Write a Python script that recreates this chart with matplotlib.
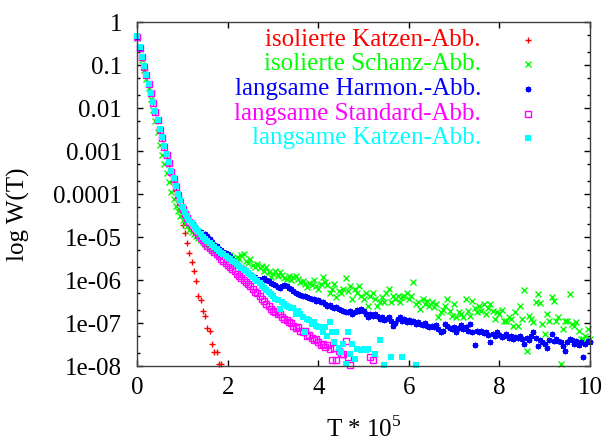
import numpy as np
import matplotlib
matplotlib.use("Agg")
import matplotlib.pyplot as plt
from matplotlib.ticker import LogLocator, NullLocator, NullFormatter

plt.rcParams["font.family"] = ["Liberation Serif", "DejaVu Serif"]
plt.rcParams["mathtext.fontset"] = "custom"
plt.rcParams["mathtext.rm"] = "Liberation Serif"

# sampling step of T * 1e5; values are exponents v with W(T) = 10**(-v)
# None = point not visible (zero / below 1e-8)
STEP = 0.05

red_exp = [
    0.33, 0.59, 0.81, 1.03, 1.23, 1.44, 1.65, 1.87, 2.08, 2.27, 2.49, 2.68, 2.88, 3.08, 3.3, 3.52, 3.72, 3.92, 4.1, 4.35,
    4.72, 4.91, 5.14, 5.37, 5.57, 5.79, 6.03, 6.36, 6.47, 6.71, 6.84, 7.12, 7.19, 7.49, 7.67, 7.67, 7.96, 7.96,
]

green_exp = [
    0.36, 0.63, 0.88, 1.12, 1.33, 1.54, 1.8, 2.05, 2.3, 2.55, 2.85, 3.1, 3.3, 3.5, 3.72, 3.95, 4.12, 4.28, 4.4, 4.5,
    4.6, 4.68, 4.75, 4.83, 4.88, 4.93, 4.98, 5.03, 5.08, 5.12, 5.16, 5.2, 5.24, 5.28, 5.32, 5.36, 5.38, 5.4, 5.38, 5.42,
    5.45, 5.42, 5.48, 5.5, 5.46, 5.52, 5.42, 5.4, 5.55, 5.6, 5.52, 5.66, 5.7, 5.62, 5.72, 5.67, 5.78, 5.7, 5.82, 5.94,
    5.85, 5.8, 5.9, 5.82, 5.88, 5.95, 5.98, 5.9, 6.0, 5.92, 5.9, 5.98, 6.05, 6.02, 6.1, 6.17, 6.08, 6.12, 6.0, 6.15,
    6.21, 6.1, 5.94, 6.05, 6.12, 6.29, 6.2, 6.09, 6.4, 6.25, 6.3, 6.2, 5.96, 6.25, 6.15, 6.44, 6.21, 6.3, 6.15, 6.36,
    6.44, 6.3, 6.6, 6.36, 6.29, 6.44, 6.6, 6.52, 6.4, 6.52, 6.3, 6.21, 6.52, 6.36, 6.45, 6.36, 6.52, 6.4, 6.36, 6.3,
    6.45, 6.36, 6.04, 6.56, 6.5, 6.67, 6.44, 6.55, 6.48, 6.6, 6.52, 6.62, 6.56, 6.87, 6.75, 6.7, 6.6, 6.44, 6.71, 6.83,
    6.56, 6.87, 6.75, 6.8, 6.87, 6.44, 6.71, 6.83, 6.48, 6.64, 6.75, 6.6, 6.71, 6.56, 6.79, 6.64, 6.56, 6.71, 6.9, 6.75,
    6.8, 6.7, 6.95, 6.95, 6.85, 6.9, 7.06, 6.75, 7.06, 6.6, 6.9, 6.23, 7.66, 6.83, 6.9, 6.98, 6.52, 6.33, 6.54, 7.02,
    7.26, 6.79, 6.95, 6.4, 6.48, 6.95, 6.85, 7.95, 7.14, 6.95, 6.95, 6.33, 7.02, 7.06, 6.98, 7.18, 7.36, 7.36, 7.3, 7.14,
    7.36,
]

blue_exp = [
    0.34, 0.6, 0.81, 1.03, 1.23, 1.44, 1.65, 1.87, 2.08, 2.27, 2.49, 2.68, 2.88, 3.07, 3.26, 3.47, 3.63, 3.81, 4.0, 4.15,
    4.3, 4.42, 4.52, 4.6, 4.67, 4.74, 4.8, 4.85, 4.88, 4.92, 4.93, 4.97, 5.05, 5.12, 5.18, 5.22, 5.27, 5.3, 5.34, 5.36,
    5.4, 5.44, 5.5, 5.55, 5.6, 5.66, 5.7, 5.74, 5.78, 5.82, 5.86, 5.9, 5.94, 5.97, 6.0, 5.98, 5.96, 5.99, 6.02, 6.06,
    6.1, 6.12, 6.16, 6.18, 6.15, 6.12, 6.14, 6.18, 6.22, 6.25, 6.3, 6.33, 6.35, 6.36, 6.38, 6.4, 6.42, 6.44, 6.45, 6.48,
    6.47, 6.5, 6.5, 6.55, 6.6, 6.57, 6.62, 6.65, 6.62, 6.68, 6.7, 6.73, 6.75, 6.75, 6.72, 6.78, 6.75, 6.7, 6.73, 6.68,
    6.71, 6.8, 6.87, 6.8, 6.83, 6.78, 6.83, 6.9, 6.86, 6.92, 6.9, 6.85, 6.95, 7.06, 7.0, 6.9, 6.87, 6.95, 6.9, 6.98,
    6.93, 6.97, 6.95, 7.02, 6.98, 7.02, 7.05, 7.0, 7.08, 7.1, 7.06, 7.1, 7.04, 7.15, 7.22, 7.18, 7.02, 7.08, 7.12, 7.14,
    7.1, 7.22, 7.12, 7.05, 7.15, 7.1, 7.18, 7.02, 7.2, 7.51, 7.18, 7.2, 7.18, 7.24, 7.22, 7.28, 7.45, 7.26, 7.3, 7.22,
    7.28, 7.32, 7.3, 7.26, 7.34, 7.3, 7.37, 7.32, 7.35, 7.3, 7.37, 7.49, 7.35, 7.4, 7.3, 7.22, 7.35, 7.53, 7.4, 7.45,
    7.48, 7.57, 7.4, 7.26, 7.42, 7.38, 7.41, 7.45, 7.53, 7.64, 7.45, 7.38, 7.4, 7.48, 7.41, 7.5, 7.45, 7.8, 7.49, 7.42,
    7.45,
]

magenta_exp = [
    0.35, 0.6, 0.82, 1.04, 1.24, 1.45, 1.66, 1.88, 2.09, 2.28, 2.5, 2.7, 2.9, 3.09, 3.28, 3.49, 3.66, 3.84, 4.03, 4.18,
    4.35, 4.46, 4.56, 4.65, 4.73, 4.8, 4.88, 4.95, 5.02, 5.08, 5.14, 5.2, 5.25, 5.3, 5.35, 5.4, 5.45, 5.5, 5.55, 5.6,
    5.65, 5.7, 5.75, 5.8, 5.85, 5.9, 5.96, 6.0, 6.05, 6.1, 6.15, 6.2, 6.27, 6.3, 6.38, 6.43, 6.48, 6.55, 6.6, 6.68,
    6.72, 6.75, 6.8, 6.78, 6.85, 6.9, 6.92, 6.98, 7.0, 7.08, 7.12, 7.1, 7.18, 7.2, 7.18, 7.3, 7.28, 7.35, 7.4, 7.38,
    7.45, 7.5, 7.48, 7.55, 7.5, 7.6, 7.85, 7.57, 7.85, 7.65, 7.72, 7.72, 7.41, 7.8, 7.98, None, None, None, None, None,
    None, None, None, 7.8, 7.85,
]

cyan_exp = [
    0.33, 0.59, 0.81, 1.03, 1.23, 1.44, 1.65, 1.87, 2.08, 2.27, 2.49, 2.68, 2.88, 3.07, 3.26, 3.47, 3.63, 3.81, 4.0, 4.15,
    4.3, 4.42, 4.52, 4.6, 4.67, 4.74, 4.81, 4.87, 4.93, 4.99, 5.05, 5.09, 5.14, 5.19, 5.24, 5.28, 5.32, 5.36, 5.4, 5.44,
    5.48, 5.52, 5.56, 5.59, 5.62, 5.67, 5.72, 5.76, 5.8, 5.84, 5.88, 5.92, 5.98, 6.03, 6.08, 6.14, 6.19, 6.24, 6.28, 6.33,
    6.38, 6.43, 6.47, 6.67, 6.5, 6.55, 6.6, 6.62, 6.64, 6.66, 6.79, 6.72, 6.8, 6.85, 7.22, 6.9, 6.92, 7.02, 6.98, 7.08,
    7.1, 7.1, 7.22, 7.1, 7.3, 6.98, 7.22, 7.43, 7.22, 7.57, 7.68, 7.49, 7.95, 7.22, 7.72, 7.49, 7.84, 7.6, None, 7.62,
    7.6, 7.62, 7.6, None, None, 7.72, None, 7.4, None, 7.97, None, None, 7.8, None, None, None, None, 7.8, None, None,
    None, None, None, 7.97,
]

labels = [
    "isolierte Katzen-Abb.",
    "isolierte Schanz-Abb.",
    "langsame Harmon.-Abb.",
    "langsame Standard-Abb.",
    "langsame Katzen-Abb.",
]
colors = ["#ff0000", "#00ff00", "#0000ff", "#ff00ff", "#00ffff"]
series = [red_exp, green_exp, blue_exp, magenta_exp, cyan_exp]

y_ticks = [1e-8, 1e-7, 1e-6, 1e-5, 1e-4, 1e-3, 1e-2, 1e-1, 1]
y_ticklabels = ["1e-08", "1e-07", "1e-06", "1e-05", "0.0001", "0.001", "0.01", "0.1", "1"]
x_ticks = [0, 2, 4, 6, 8, 10]

FS = 18

# marker styles mimic gnuplot point types 1..5
styles = [
    dict(marker="+", ms=5, mew=1.0),
    dict(marker="x", ms=4, mew=1.0),
    dict(marker=(8, 2, 0), ms=4, mew=0.9),
    dict(marker="s", ms=4.3, mew=1.0, mfc="none"),
    dict(marker="s", ms=4.6, mew=0),
]

fig = plt.figure(figsize=(6.06, 4.41), dpi=100)
ax = fig.add_axes([0.2266, 0.170, 0.7470, 0.780])

for vals, col, st in zip(series, colors, styles):
    v = np.array(vals, dtype=float)
    x = np.arange(len(v)) * STEP
    kw = dict(st)
    kw.setdefault("mfc", col)
    ax.plot(x, 10.0 ** (-v), ls="none", color=col, mec=col, clip_on=False, **kw)

ax.set_yscale("log")
ax.set_xlim(0, 10)
ax.set_ylim(1e-8, 1)
ax.set_yticks(y_ticks)
ax.set_yticklabels(y_ticklabels)
ax.yaxis.set_minor_locator(LogLocator(base=10, subs=(2, 5), numticks=20))
ax.yaxis.set_minor_formatter(NullFormatter())
ax.set_xticks(x_ticks)
ax.set_xticklabels([str(t) for t in x_ticks])
ax.xaxis.set_minor_locator(NullLocator())

ax.tick_params(which="both", direction="in", top=True, right=True, labelsize=FS, colors="black")
ax.tick_params(axis="y", which="major", length=4, width=1, pad=11)
ax.tick_params(axis="y", which="minor", length=2, width=1)
ax.tick_params(axis="x", which="major", length=4, width=1, pad=8)
for sp in ax.spines.values():
    sp.set_color("#404040")
    sp.set_linewidth(1)

ax.set_ylabel("log W(T)", fontsize=FS)
ax.yaxis.set_label_coords(-0.262, 0.44)
ax.yaxis.label.set_va("center")
ax.set_xlabel(r"T * 10$^{5}$", fontsize=FS)
ax.xaxis.set_label_coords(0.5, -0.205)
ax.xaxis.label.set_va("baseline")

# gnuplot-style key: right-aligned coloured text, marker sample to the right
key_y = [0.949, 0.878, 0.805, 0.733, 0.663]
for lab, col, st, ky in zip(labels, colors, styles, key_y):
    ax.text(0.759, ky, lab, color=col, fontsize=FS, ha="right", va="center",
            transform=ax.transAxes)
    kw = dict(st)
    kw.setdefault("mfc", col)
    ax.plot([0.863], [ky], ls="none", color=col, mec=col, transform=ax.transAxes,
            clip_on=False, **kw)

fig.savefig("out.png", dpi=100)
